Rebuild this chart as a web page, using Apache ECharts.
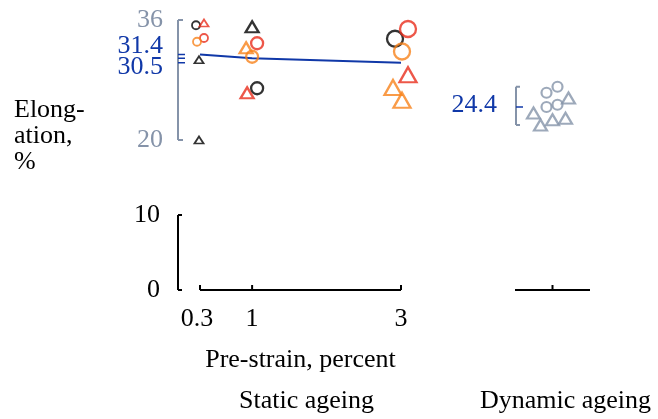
<!DOCTYPE html>
<html>
<head>
<meta charset="utf-8">
<script src="https://cdn.jsdelivr.net/npm/echarts@6/dist/echarts.min.js"></script>
<style>
html, body { margin: 0; padding: 0; background: #fff; }
#chart { width: 658px; height: 419px; }
</style>
</head>
<body>
<div id="chart"></div>
<script>
// pre-strain levels (static ageing)
var preStrain = [0.3, 1, 3];
var preStrainLabels = ['0.3', '1', '3'];

// elongation, % : [pre-strain, value]
var blackCircle = [[0.3, 35.3], [1, 26.9], [3, 33.5]];
var blackTriangle = [[0.3, 30.7], [0.3, 20.0], [1, 35.1]];
var redCircle = [[0.3, 33.6], [1, 32.9], [3, 34.8]];
var redTriangle = [[0.3, 35.6], [1, 26.3], [3, 28.7]];
var orangeCircle = [[0.3, 33.1], [1, 31.1], [3, 31.8]];
var orangeTriangle = [[1, 32.3], [3, 27.0], [3, 25.3]];

// dynamic ageing
var dynCircle = [26.3, 27.1, 24.4, 24.7];
var dynTriangle = [23.6, 22.0, 22.7, 22.9, 25.6];

// means
var meanLine = [31.4, 30.9, 30.3];
var meanLabels = ['31.4', '30.5'];
var dynMean = 24.4;
var dynMeanLabel = '24.4';

// range frame ticks
var upperTicks = [20, 36];
var lowerTicks = [0, 10];

// sideways jitter of the markers, px
var blackCircleJit = [-4, 5, -6];
var blackTriangleJit = [-1, -1, 0];
var redCircleJit = [4, 5, 7];
var redTriangleJit = [4, -5, 7];
var orangeCircleJit = [-3, 0, 1];
var orangeTriangleJit = [-6, -8, 1];
var dynCircleJit = [-6, 5, -6, 5];
var dynTriangleJit = [-19, -12, 0, 13, 16];

var BLACK = '#000', RED = '#e92d1b', ORANGE = '#f7821a', GRAY = '#8593a9', BLUE = '#1038a8';
var FONT = '"Liberation Serif", "Times New Roman", serif';

function markSize(x, shape) {
    var s = x < 0.5 ? 8 : (x < 2 ? 12 : 16);
    return shape == 'triangle' ? [s + 1, s - 1] : s;
}

function pts(list, jit, shape, color) {
    return {
        type: 'scatter',
        xAxisIndex: 0, yAxisIndex: 0,
        symbol: shape,
        silent: true,
        z: 3,
        data: list.map(function(d, i) {
            return {
                value: d,
                symbolSize: markSize(d[0], shape),
                symbolOffset: [jit[i], 0],
                itemStyle: { color: 'rgba(0,0,0,0)', borderColor: color, borderWidth: d[0] < 0.5 ? 1.8 : 2.3 }
            };
        })
    };
}

function dynPts(list, jit, shape, size) {
    return {
        type: 'scatter',
        xAxisIndex: 1, yAxisIndex: 1,
        symbol: shape,
        silent: true,
        data: list.map(function(v, i) {
            return { value: [0, v], symbolSize: size, symbolOffset: [jit[i], 0] };
        }),
        itemStyle: { color: 'rgba(0,0,0,0)', borderColor: GRAY, borderWidth: 2.2 }
    };
}

function line(x1, y1, x2, y2, c, w) {
    return { type: 'line', shape: { x1: x1, y1: y1, x2: x2, y2: y2 }, style: { stroke: c, lineWidth: w || 1.5 } };
}
function text(x, y, s, c, align) {
    return { type: 'text', x: x, y: y, style: { text: s, fill: c, font: '26px ' + FONT, align: align || 'center', verticalAlign: 'middle' } };
}

function staticFrame(params, api) {
    var kids = [];
    var x0 = api.coord([preStrain[0], 0])[0];
    var xEnd = api.coord([preStrain[2], 0])[0];
    var ax = x0 - 22;
    var yb = api.coord([0, 0])[1];
    // upper gray bracket
    var ya = api.coord([0, upperTicks[1]])[1], yz = api.coord([0, upperTicks[0]])[1];
    kids.push(line(ax, ya, ax, yz, GRAY, 2));
    kids.push(line(ax, ya, ax + 5, ya, GRAY, 2));
    kids.push(line(ax, yz, ax + 5, yz, GRAY, 2));
    kids.push(text(ax - 15, ya, String(upperTicks[1]), GRAY, 'right'));
    kids.push(text(ax - 15, yz, String(upperTicks[0]), GRAY, 'right'));
    // mean ticks
    meanLine.forEach(function(m) {
        var y = api.coord([0, m])[1];
        kids.push(line(ax, y, ax + 7, y, BLUE, 1.5));
    });
    kids.push(text(ax - 15, api.coord([0, meanLine[0]])[1] - 8, meanLabels[0], BLUE, 'right'));
    kids.push(text(ax - 15, api.coord([0, meanLine[2]])[1] + 4, meanLabels[1], BLUE, 'right'));
    // lower black bracket
    var yt = api.coord([0, lowerTicks[1]])[1];
    kids.push(line(ax, yt, ax, yb, BLACK, 2));
    kids.push(line(ax, yt, ax + 4, yt, BLACK, 2));
    kids.push(line(ax, yb, ax + 4, yb, BLACK, 2));
    kids.push(text(ax - 18, yt, String(lowerTicks[1]), BLACK, 'right'));
    kids.push(text(ax - 18, yb, String(lowerTicks[0]), BLACK, 'right'));
    // x axis
    kids.push(line(x0, yb, xEnd, yb, BLACK, 2));
    preStrain.forEach(function(p, i) {
        var x = api.coord([p, 0])[0];
        kids.push(line(x, yb, x, yb - 5, BLACK, 2));
        kids.push(text(x - (i == 0 ? 3 : 0), yb + 29, preStrainLabels[i], BLACK));
    });
    var mid = (x0 + xEnd) / 2;
    kids.push(text(mid, yb + 70, 'Pre-strain, percent', BLACK));
    kids.push(text(mid + 6, yb + 111, 'Static ageing', BLACK));
    kids.push(text(14, 110, 'Elong-', BLACK, 'left'));
    kids.push(text(14, 136, 'ation,', BLACK, 'left'));
    kids.push(text(14, 162, '%', BLACK, 'left'));
    return { type: 'group', children: kids };
}

function dynFrame(params, api) {
    var kids = [];
    var xl = api.coord([-1, 0])[0], xr = api.coord([1, 0])[0], xc = api.coord([0, 0])[0];
    var yb = api.coord([0, 0])[1];
    var all = dynCircle.concat(dynTriangle);
    var ya = api.coord([0, Math.max.apply(null, all)])[1];
    var yz = api.coord([0, Math.min.apply(null, all)])[1];
    var ax = xl + 1;
    kids.push(line(ax, ya, ax, yz, GRAY, 2));
    kids.push(line(ax, ya, ax + 4, ya, GRAY, 2));
    kids.push(line(ax, yz, ax + 4, yz, GRAY, 2));
    var ym = api.coord([0, dynMean])[1];
    kids.push(line(ax, ym, ax + 7, ym, BLUE, 1.5));
    kids.push(text(ax - 19, ym - 2, dynMeanLabel, BLUE, 'right'));
    kids.push(line(xl, yb, xr, yb, BLACK, 2));
    kids.push(line(xc, yb, xc, yb - 5, BLACK, 2));
    kids.push(text(xc + 13, yb + 111, 'Dynamic ageing', BLACK));
    return { type: 'group', children: kids };
}

var chart = echarts.init(document.getElementById('chart'), null, { renderer: 'canvas' });
chart.setOption({
    animation: false,
    backgroundColor: '#fff',
    grid: [
        { left: 200, top: 20, width: 201, height: 270 },
        { left: 515, top: 20, width: 75, height: 270 }
    ],
    xAxis: [
        { type: 'value', gridIndex: 0, min: 0.3, max: 3, show: false },
        { type: 'value', gridIndex: 1, min: -1, max: 1, show: false }
    ],
    yAxis: [
        { type: 'value', gridIndex: 0, min: 0, max: 36, show: false },
        { type: 'value', gridIndex: 1, min: 0, max: 36, show: false }
    ],
    series: [
        { type: 'custom', xAxisIndex: 0, yAxisIndex: 0, silent: true, data: [[0.3, 0]], renderItem: staticFrame, z: 1 },
        { type: 'custom', xAxisIndex: 1, yAxisIndex: 1, silent: true, data: [[0, 0]], renderItem: dynFrame, z: 1 },
        {
            type: 'line', xAxisIndex: 0, yAxisIndex: 0, silent: true, z: 2,
            data: preStrain.map(function(p, i) { return [p, meanLine[i]]; }),
            symbol: 'none', lineStyle: { color: BLUE, width: 2 }
        },
        pts(blackCircle, blackCircleJit, 'circle', BLACK),
        pts(blackTriangle, blackTriangleJit, 'triangle', BLACK),
        pts(redCircle, redCircleJit, 'circle', RED),
        pts(redTriangle, redTriangleJit, 'triangle', RED),
        pts(orangeCircle, orangeCircleJit, 'circle', ORANGE),
        pts(orangeTriangle, orangeTriangleJit, 'triangle', ORANGE),
        dynPts(dynCircle, dynCircleJit, 'circle', 10),
        dynPts(dynTriangle, dynTriangleJit, 'triangle', [13, 11])
    ]
});
</script>
</body>
</html>
